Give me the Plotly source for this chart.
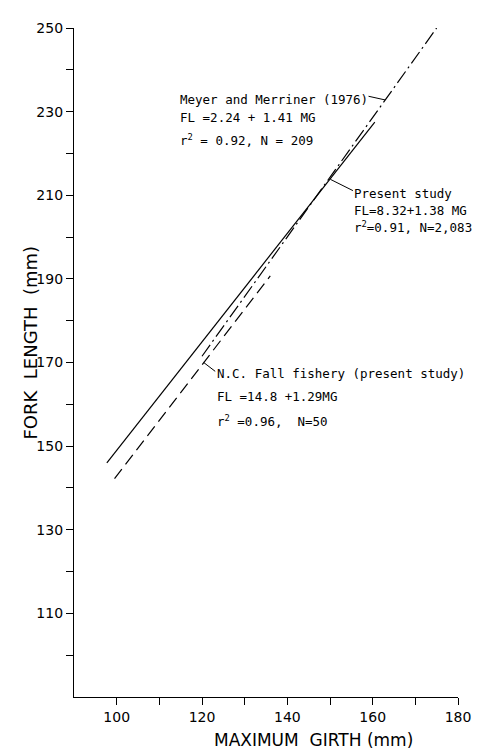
import plotly.graph_objects as go

# Regression lines (endpoints)
present_x = [97.7, 160.5]
present_y = [146.0, 227.5]
meyer_x = [120.0, 175.0]
meyer_y = [171.5, 250.0]
nc_x = [99.5, 136.0]
nc_y = [142.2, 190.7]

x_ticks = [100, 120, 140, 160, 180]
y_ticks = [110, 130, 150, 170, 190, 210, 230, 250]

FONT = "DejaVu Sans"
MONO = "DejaVu Sans Mono"
fig = go.Figure()
fig.add_trace(go.Scatter(x=present_x, y=present_y, mode="lines",
                         line=dict(color="black", width=1.2), name="Present study"))
fig.add_trace(go.Scatter(x=meyer_x, y=meyer_y, mode="lines",
                         line=dict(color="black", width=1.2, dash="14px,4px,2px,4px"),
                         name="Meyer and Merriner (1976)"))
fig.add_trace(go.Scatter(x=nc_x, y=nc_y, mode="lines",
                         line=dict(color="black", width=1.2, dash="12px,6px"),
                         name="N.C. Fall fishery"))

ann = []
def txt(x, y, s):
    ann.append(dict(x=x, y=y, xref="x", yref="y", text=s, showarrow=False,
                    xanchor="left", yanchor="middle",
                    font=dict(family=MONO, size=12.5, color="black")))

txt(114.3, 233.0, "Meyer and Merriner (1976)")
txt(114.3, 228.7, "FL =2.24 + 1.41 MG")
txt(114.3, 223.1, "r<sup>2</sup> = 0.92, N = 209")
txt(155.1, 210.5, "Present study")
txt(155.1, 206.3, "FL=8.32+1.38 MG")
txt(155.1, 202.3, "r<sup>2</sup>=0.91, N=2,083")
txt(123.1, 167.3, "N.C. Fall fishery (present study)")
txt(123.1, 161.9, "FL =14.8 +1.29MG")
txt(123.1, 155.9, "r<sup>2</sup> =0.96,  N=50")

def leader(x, y, ax, ay):
    ann.append(dict(x=x, y=y, xref="x", yref="y", text="", showarrow=True,
                    arrowhead=0, arrowwidth=1, arrowcolor="black", ax=ax, ay=ay))

leader(162.9, 232.8, -18, -4)
leader(150.1, 213.8, 24, 12)
leader(120.4, 170.0, 13, 10)

ann.append(dict(x=0.624, y=-0.065, xref="paper", yref="paper", text="MAXIMUM  GIRTH (mm)",
                yanchor="middle", showarrow=False, font=dict(family=FONT, size=17, color="black")))
ann.append(dict(x=-0.147, y=0.53, xref="paper", yref="paper", text="FORK  LENGTH  (mm)",
                showarrow=False, textangle=-90, font=dict(family=FONT, size=18, color="black")))

# page body adds an 8px margin; size the figure so the plot lands where the reference has it
fig.update_layout(
    width=475, height=743,
    margin=dict(l=66, r=21, t=12, b=54),
    paper_bgcolor="white", plot_bgcolor="white",
    showlegend=False,
    annotations=ann,
    xaxis=dict(range=[90, 180], tickvals=x_ticks, ticks="outside", ticklen=7,
               tickcolor="black", showline=True, linecolor="black", linewidth=1.2,
               showgrid=False, zeroline=False,
               tickfont=dict(family=FONT, size=14, color="black"),
               minor=dict(tickvals=[110, 130, 150, 170], ticks="outside", ticklen=7,
                          tickcolor="black", showgrid=False)),
    yaxis=dict(range=[90, 250], tickvals=y_ticks, ticks="outside", ticklen=7,
               tickcolor="black", showline=True, linecolor="black", linewidth=1.2,
               showgrid=False, zeroline=False,
               tickfont=dict(family=FONT, size=14, color="black"),
               minor=dict(tickvals=[100, 120, 140, 160, 180, 200, 220, 240], ticks="outside",
                          ticklen=7, tickcolor="black", showgrid=False)),
)

fig.write_html("out.html")
